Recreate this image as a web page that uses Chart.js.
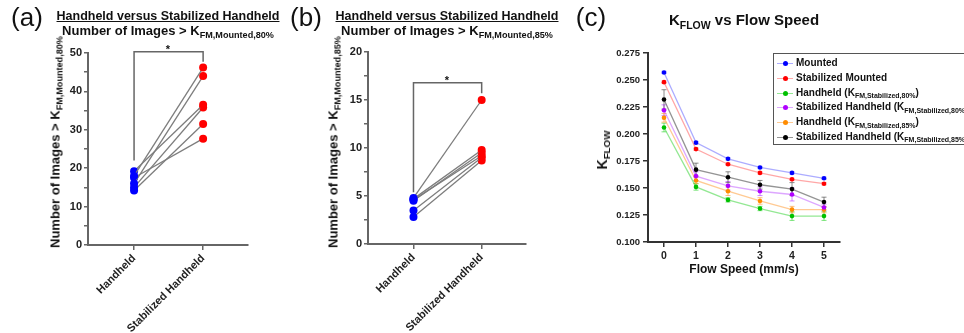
<!DOCTYPE html>
<html>
<head>
<meta charset="utf-8">
<script src="https://cdn.jsdelivr.net/npm/chart.js@4.4.1/dist/chart.umd.min.js"></script>
<style>
  body { margin: 0; width: 964px; height: 333px; background: #fff; position: relative; overflow: hidden;
         font-family: 'Liberation Sans', Arial, sans-serif; color: #111; }
  canvas { position: absolute; top: 0; }
  .t { position: absolute; white-space: nowrap; font-weight: bold; transform: translate(-50%, -50%); }
  .rot { transform: translate(-50%, -50%) rotate(-90deg); }
  .s { font-size: 0.7em; position: relative; top: 0.35em; }
  .letter { position: absolute; font-size: 26px; transform: translate(-50%, -50%); white-space: nowrap; }
  #legend { position: absolute; left: 773px; top: 53px; width: 210px; height: 92px; border: 1.5px solid #555; box-sizing: border-box; }
  .row { position: absolute; left: 0; height: 14px; font-size: 10px; font-weight: bold; white-space: nowrap; }
  .row .ln { position: absolute; left: 3px; top: 7px; width: 16px; height: 1px; }
  .row .dot { position: absolute; left: 9px; top: 5px; width: 5px; height: 5px; border-radius: 50%; }
  .row .tx { position: absolute; left: 22px; top: 0; line-height: 14px; }
</style>
</head>
<body>
<canvas id="chartA" width="270" height="333" style="left:0px"></canvas>
<canvas id="chartB" width="266" height="333" style="left:280px"></canvas>
<canvas id="chartC" width="280" height="333" style="left:580px"></canvas>

<div class="letter" style="left:27px;top:17px">(a)</div>
<div class="letter" style="left:306px;top:17px">(b)</div>
<div class="letter" style="left:591px;top:17px">(c)</div>

<div class="t" style="left:168px;top:16px;font-size:12.5px;text-decoration:underline">Handheld versus Stabilized Handheld</div>
<div class="t" style="left:168px;top:30px;font-size:13px">Number of Images &gt; K<span class="s">FM,Mounted,80%</span></div>
<div class="t" style="left:447px;top:16px;font-size:12.5px;text-decoration:underline">Handheld versus Stabilized Handheld</div>
<div class="t" style="left:447px;top:30px;font-size:13px">Number of Images &gt; K<span class="s">FM,Mounted,85%</span></div>
<div class="t" style="left:744px;top:19px;font-size:15px">K<span class="s">FLOW</span> vs Flow Speed</div>

<div class="t rot" style="left:55px;top:142px;font-size:13px">Number of Images &gt; K<span class="s">FM,Mounted,80%</span></div>
<div class="t rot" style="left:333px;top:142px;font-size:13px">Number of Images &gt; K<span class="s">FM,Mounted,85%</span></div>
<div class="t rot" style="left:602px;top:150px;font-size:14px">K<span class="s">FLOW</span></div>
<div class="t" style="left:744px;top:269px;font-size:12px">Flow Speed (mm/s)</div>

<div class="t" style="left:168px;top:49px;font-size:11px">*</div>
<div class="t" style="left:447px;top:80px;font-size:11px">*</div>

<div id="legend"></div>

<script>
// panel (a): paired counts, threshold K FM,Mounted,80%
const pairLabels = ['Handheld', 'Stabilized Handheld'];
const handheldA = [18.0, 16.0, 19.2, 15.0, 14.2, 17.5];
const stabilizedA = [46.2, 44.0, 36.5, 35.8, 31.5, 27.7];
const bracketA = [22, 50.3, 50.3, 47.7];

// panel (b): paired counts, threshold K FM,Mounted,85%
const handheldB = [4.8, 4.7, 4.5, 4.6, 3.5, 2.8];
const stabilizedB = [15.0, 9.8, 9.5, 9.2, 9.0, 8.7];
const bracketB = [5.4, 16.8, 16.8, 15.7];

// panel (c): K_FLOW vs flow speed
const speeds = [0, 1, 2, 3, 4, 5];
const kTicks = [0.100, 0.125, 0.150, 0.175, 0.200, 0.225, 0.250, 0.275];
const seriesNames = ['Mounted', 'Stabilized Mounted',
  'Handheld (K<span class="s">FM,Stabilized,80%</span>)',
  'Stabilized Handheld (K<span class="s">FM,Stabilized,80%</span>)',
  'Handheld (K<span class="s">FM,Stabilized,85%</span>)',
  'Stabilized Handheld (K<span class="s">FM,Stabilized,85%</span>)'];
const mounted     = [0.257, 0.192, 0.177, 0.169, 0.164, 0.159];
const stabMounted = [0.248, 0.186, 0.172, 0.164, 0.158, 0.154];
const hand80      = [0.206, 0.151, 0.139, 0.131, 0.124, 0.124];
const stabHand80  = [0.222, 0.161, 0.152, 0.147, 0.144, 0.132];
const hand85      = [0.215, 0.157, 0.147, 0.138, 0.130, 0.130];
const stabHand85  = [0.232, 0.167, 0.160, 0.153, 0.149, 0.137];
const errMounted     = [0.001, 0.001, 0.001, 0.001, 0.001, 0.001];
const errStabMounted = [0.001, 0.001, 0.001, 0.001, 0.001, 0.001];
const errHand80      = [0.004, 0.003, 0.002, 0.002, 0.004, 0.004];
const errStabHand80  = [0.005, 0.004, 0.004, 0.004, 0.006, 0.003];
const errHand85      = [0.004, 0.003, 0.004, 0.003, 0.003, 0.003];
const errStabHand85  = [0.009, 0.006, 0.005, 0.004, 0.006, 0.0045];

Chart.defaults.font.family = "'Liberation Sans', Arial, sans-serif";
Chart.defaults.font.weight = 'bold';
Chart.defaults.color = '#222';

function pairedChart(id, hand, stab, bracket, yMax, step, labelEvery, padTop, padRight, xHeight) {
  const datasets = hand.map((h, i) => ({
    data: [{ x: 0, y: h }, { x: 1, y: stab[i] }],
    borderColor: '#7d7d7d', borderWidth: 1.3,
    pointRadius: 4, pointBorderWidth: 0,
    pointBackgroundColor: ['#0000ff', '#ff0000']
  }));
  datasets.push({
    data: bracket.map((y, i) => ({ x: i < 2 ? 0 : 1, y })),
    borderColor: '#666', borderWidth: 1.5, pointRadius: 0, clip: false
  });
  return new Chart(document.getElementById(id), {
    type: 'line',
    data: { datasets },
    options: {
      responsive: false, animation: false,
      layout: { padding: { top: padTop, right: padRight, left: 0, bottom: 0 } },
      plugins: { legend: { display: false }, tooltip: { enabled: false } },
      scales: {
        x: {
          type: 'linear', min: -0.667, max: 1.65,
          afterBuildTicks: s => { s.ticks = [{ value: 0 }, { value: 1 }]; },
          afterFit: s => { s.height = xHeight; },
          ticks: { minRotation: 45, maxRotation: 45, padding: 2, font: { size: 11 }, color: '#222',
                   callback: v => pairLabels[v] },
          grid: { drawOnChartArea: false, tickLength: 5, color: '#666', lineWidth: 1.5 },
          border: { color: '#666', width: 2 }
        },
        y: {
          min: 0, max: yMax,
          afterBuildTicks: s => { const t = []; for (let v = 0; v <= yMax + 1e-9; v += step) t.push({ value: v }); s.ticks = t; },
          afterFit: s => { s.width = 88; },
          ticks: { padding: 2, font: { size: 11 }, color: '#222',
                   callback: v => (Math.abs(v / labelEvery - Math.round(v / labelEvery)) < 1e-6 ? v : '') },
          grid: { drawOnChartArea: false, tickLength: 4, color: '#666', lineWidth: 1.5 },
          border: { color: '#666', width: 2 }
        }
      }
    }
  });
}

pairedChart('chartA', handheldA, stabilizedA, bracketA, 50, 5, 10, 53, 22, 88);
pairedChart('chartB', handheldB, stabilizedB, bracketB, 20, 2.5, 5, 52, 20, 89);

// simple error bar drawing, values from the err arrays
const errorBars = {
  id: 'errorBars',
  beforeDatasetsDraw(chart) {
    const { ctx, scales: { x, y } } = chart;
    ctx.save();
    chart.data.datasets.forEach(ds => {
      if (!ds.err) return;
      ctx.strokeStyle = ds.errColor;
      ctx.lineWidth = 1;
      ds.data.forEach((p, i) => {
        const px = x.getPixelForValue(p.x);
        const top = y.getPixelForValue(p.y + ds.err[i]);
        const bot = y.getPixelForValue(p.y - ds.err[i]);
        ctx.beginPath();
        ctx.moveTo(px, top); ctx.lineTo(px, bot);
        ctx.moveTo(px - 2.5, top); ctx.lineTo(px + 2.5, top);
        ctx.moveTo(px - 2.5, bot); ctx.lineTo(px + 2.5, bot);
        ctx.stroke();
      });
    });
    ctx.restore();
  }
};

const cSeries = [
  { vals: mounted, err: errMounted, dot: '#0000ff', line: 'rgba(70,70,255,0.45)' },
  { vals: stabMounted, err: errStabMounted, dot: '#ff0000', line: 'rgba(255,60,60,0.45)' },
  { vals: hand80, err: errHand80, dot: '#00c000', line: 'rgba(40,210,40,0.5)' },
  { vals: stabHand80, err: errStabHand80, dot: '#b000ff', line: 'rgba(180,60,255,0.45)' },
  { vals: hand85, err: errHand85, dot: '#ff8c00', line: 'rgba(255,150,40,0.5)' },
  { vals: stabHand85, err: errStabHand85, dot: '#000000', line: 'rgba(60,60,60,0.55)' }
];

new Chart(document.getElementById('chartC'), {
  type: 'line',
  data: {
    datasets: cSeries.map(s => ({
      data: speeds.map((x, i) => ({ x, y: s.vals[i] })),
      err: s.err, errColor: s.line.replace(/[\d.]+\)$/, '0.6)'),
      borderColor: s.line, borderWidth: 1.3,
      pointRadius: 2.3, pointBorderWidth: 0, pointBackgroundColor: s.dot
    }))
  },
  options: {
    responsive: false, animation: false,
    layout: { padding: { top: 53, right: 20, left: 0, bottom: 0 } },
    plugins: { legend: { display: false }, tooltip: { enabled: false } },
    scales: {
      x: {
        type: 'linear', min: -0.5, max: 5.5,
        afterBuildTicks: s => { s.ticks = speeds.map(v => ({ value: v })); },
        afterFit: s => { s.height = 91; },
        ticks: { maxRotation: 0, padding: 3, font: { size: 10.5 }, color: '#222' },
        grid: { drawOnChartArea: false, tickLength: 5, color: '#333', lineWidth: 1.5 },
        border: { color: '#333', width: 2 }
      },
      y: {
        min: 0.1, max: 0.275,
        afterBuildTicks: s => { s.ticks = kTicks.map(v => ({ value: v })); },
        afterFit: s => { s.width = 68; },
        ticks: { padding: 3, font: { size: 9.5 }, color: '#222', callback: v => v.toFixed(3) },
        grid: { drawOnChartArea: false, tickLength: 5, color: '#333', lineWidth: 1.5 },
        border: { color: '#333', width: 2 }
      }
    }
  },
  plugins: [errorBars]
});

// legend with subscripts, built from the series list
const legend = document.getElementById('legend');
cSeries.forEach((s, i) => {
  const row = document.createElement('div');
  row.className = 'row';
  row.style.top = (2 + i * 14.8) + 'px';
  row.innerHTML = `<div class="ln" style="background:${s.line}"></div><div class="dot" style="background:${s.dot}"></div><div class="tx">${seriesNames[i]}</div>`;
  legend.appendChild(row);
});
</script>
</body>
</html>
